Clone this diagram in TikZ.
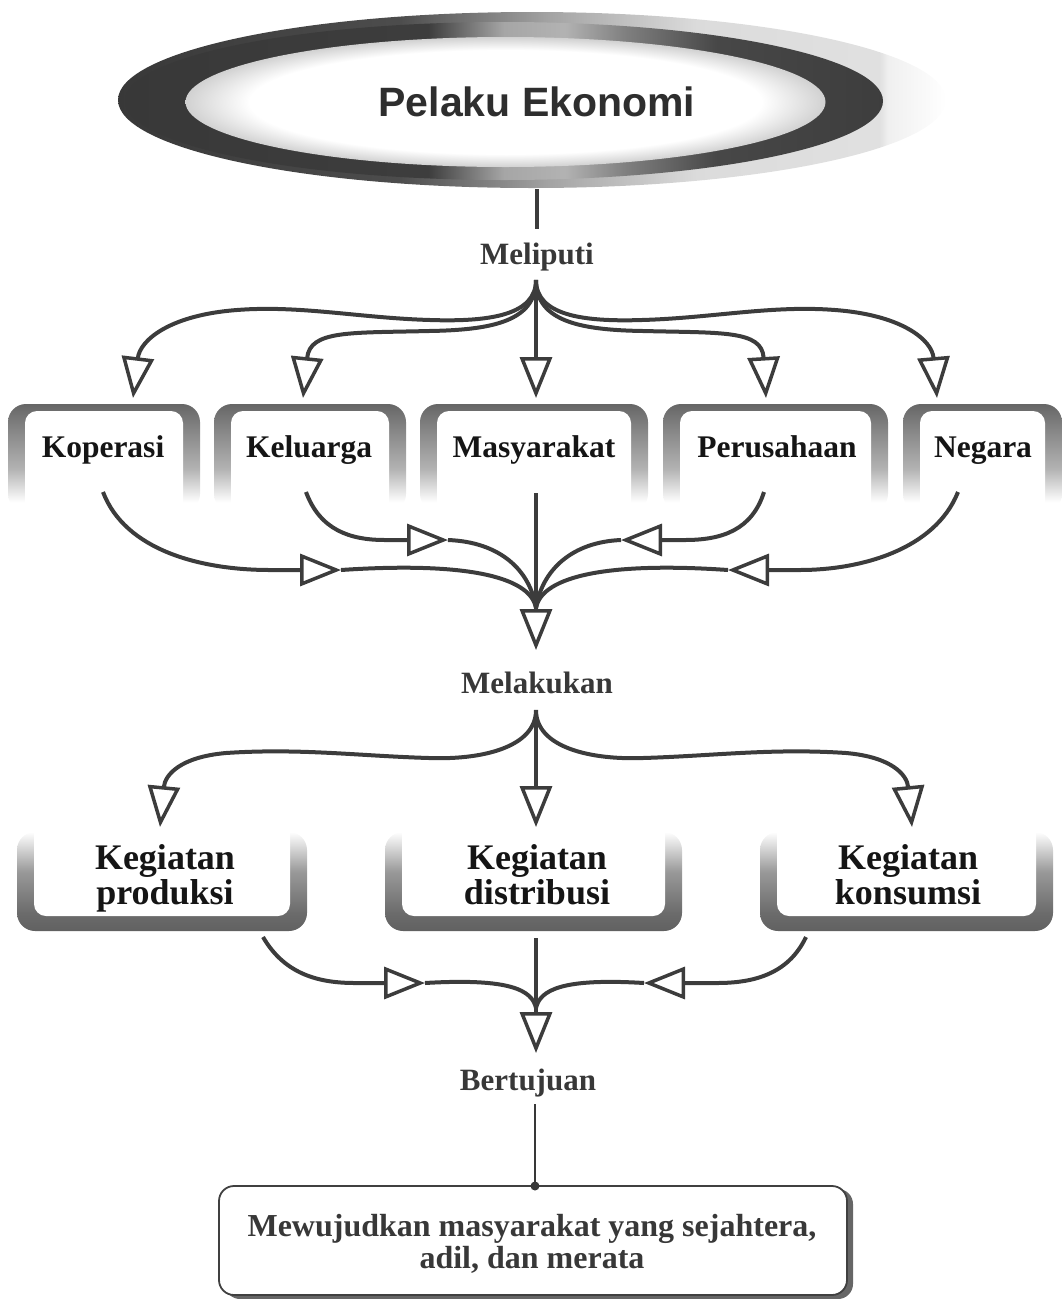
\documentclass[tikz,border=0pt]{standalone}
\usepackage{fontspec}
\setmainfont{Liberation Serif}
\newfontfamily\headfont{Liberation Sans}
\usetikzlibrary{arrows.meta}
\definecolor{ln}{HTML}{3C3C3C}
\definecolor{lbl}{HTML}{383838}
\definecolor{txt}{HTML}{151515}
% TikZ maps the path's bounding box onto 25bp..75bp of these shadings
\pgfdeclarehorizontalshading{outershade}{100bp}{color(0bp)=(black!78); color(25bp)=(black!78); color(42bp)=(black!70); color(51bp)=(black!36); color(60bp)=(black!14); color(71bp)=(black!12); color(71.5bp)=(black!6); color(75bp)=(white); color(100bp)=(white)}
\pgfdeclarehorizontalshading{darkshade}{100bp}{color(0bp)=(black!78); color(25bp)=(black!78); color(45bp)=(black!76); color(50bp)=(black!35); color(54bp)=(black!30); color(58bp)=(black!50); color(64bp)=(black!72); color(75bp)=(black!76); color(100bp)=(black!76)}
\pgfdeclareradialshading{innerglow}{\pgfpoint{0bp}{0bp}}{color(0bp)=(white); color(20bp)=(white); color(25bp)=(black!18); color(50bp)=(black!18)}
\pgfdeclareverticalshading{frameA}{100bp}{color(0bp)=(white); color(25bp)=(white); color(29.5bp)=(white); color(45bp)=(black!30); color(62.5bp)=(black!47); color(75bp)=(black!60); color(100bp)=(black!60)}
\pgfdeclareverticalshading{frameB}{100bp}{color(0bp)=(black!62); color(25bp)=(black!62); color(34bp)=(black!58); color(55bp)=(black!40); color(69bp)=(black!12); color(75bp)=(white); color(100bp)=(white)}
\tikzset{
  conn/.style={draw=ln, line width=4pt},
  tri/.style={conn, -{Triangle[open,length=41pt,width=32pt,line width=3.5pt]}},
  lab/.style={text=lbl, font=\fontsize{31}{34}\selectfont\bfseries, inner sep=0pt, anchor=base},
  boxtxt/.style={text=txt, font=\fontsize{31.5}{34}\selectfont\bfseries, inner sep=0pt, anchor=base},
  boxtxtB/.style={text=txt, font=\fontsize{36}{35}\selectfont\bfseries, align=center, inner sep=0pt, anchor=base},
}
\newcommand{\frameA}[2]{%
  \shade[shading=frameA, rounded corners=18pt] (#1,404) rectangle (#2,512);
  \fill[white, rounded corners=12pt] ({#1+17},411) rectangle ({#2-17},530);}
\newcommand{\frameB}[2]{%
  \shade[shading=frameB, rounded corners=18pt] (#1,832) rectangle (#2,931);
  \fill[white, rounded corners=12pt] ({#1+17},815) rectangle ({#2-17},916);}
\begin{document}
\begin{tikzpicture}[x=1pt, y=-1pt]
\useasboundingbox (0,0) rectangle (1062,1299);
% title ellipse
\shade[shading=outershade] (532,100) ellipse [x radius=414pt, y radius=88pt];
\shade[shading=darkshade] (504,101) ellipse [x radius=379pt, y radius=79pt];
\shade[shading=innerglow] (505.5,102) ellipse [x radius=320pt, y radius=65pt];
\node[text=black!82, font=\headfont\fontsize{41}{44}\selectfont\bfseries, inner sep=0pt] (title) at (537,102) {Pelaku Ekonomi};
\coordinate (ellbot) at (537,189);
% labels
\node[lab] (meliputi) at (537,264) {Meliputi};
\node[lab] (melakukan) at (537,693) {Melakukan};
\node[lab] (bertujuan) at (528,1090) {Bertujuan};
\draw[conn] (ellbot) -- (537,229);
% row 1 frames
\frameA{8}{200}
\frameA{214}{406}
\frameA{420}{648}
\frameA{663}{888}
\frameA{903}{1062}
\node[boxtxt] (kop) at (103,457) {Koperasi};
\node[boxtxt] (kel) at (309,457) {Keluarga};
\node[boxtxt] (mas) at (534,457) {Masyarakat};
\node[boxtxt] (per) at (777,457) {Perusahaan};
\node[boxtxt] (neg) at (983,457) {Negara};
% row 2 frames
\frameB{17}{307}
\frameB{385}{682}
\frameB{760}{1053}
\node[boxtxtB] (pro) at (165,904) {Kegiatan\\produksi};
\node[boxtxtB] (dis) at (537,904) {Kegiatan\\distribusi};
\node[boxtxtB] (kon) at (908,904) {Kegiatan\\konsumsi};
% goal box
\fill[black!60, rounded corners=15pt] (225,1189) rectangle (853,1299);
\draw[fill=white, draw=black!75, line width=1.8pt, rounded corners=15pt] (219,1186) rectangle (847,1295);
\node[text=lbl, font=\fontsize{32}{32}\selectfont\bfseries, align=center, inner sep=0pt, anchor=base] (goal) at (532,1268) {Mewujudkan masyarakat yang sejahtera,\\adil, dan merata};
% coordinates
\coordinate (fanA) at (536,280);
\coordinate (kopin) at (133,398);
\coordinate (kelin) at (303,398);
\coordinate (masin) at (536,398);
\coordinate (perin) at (766,398);
\coordinate (negin) at (937,398);
\coordinate (kopout) at (103,492);
\coordinate (kelout) at (306,492);
\coordinate (masout) at (536,493);
\coordinate (perout) at (764,492);
\coordinate (negout) at (958,492);
\coordinate (kopt) at (341,570);
\coordinate (kelt) at (448,540);
\coordinate (pert) at (621,540);
\coordinate (negt) at (728,570);
\coordinate (mergeA) at (536,608);
\coordinate (tipA) at (536,650);
\coordinate (fanB) at (536,710);
\coordinate (proin) at (160,827);
\coordinate (disin) at (536,827);
\coordinate (konin) at (912,827);
\coordinate (proout) at (263,937);
\coordinate (disout) at (536,938);
\coordinate (konout) at (806,937);
\coordinate (prot) at (425,983);
\coordinate (kont) at (644,983);
\coordinate (mergeB) at (536,1008);
\coordinate (tipB) at (536,1053);
\coordinate (goaltop) at (535,1186);
\coordinate (goalline) at (535,1104);
% fan 1
\draw[tri] (fanA) .. controls (536,315) and (490,322) .. (430,320) .. controls (360,318) and (300,305) .. (237,310) .. controls (170,315) and (140,340) .. (kopin);
\draw[tri] (fanA) .. controls (536,322) and (490,330) .. (429,331) .. controls (350,333) and (310,330) .. (kelin);
\draw[tri] (fanA) -- (masin);
\draw[tri] (fanA) .. controls (536,322) and (582,330) .. (643,331) .. controls (722,333) and (762,330) .. (perin);
\draw[tri] (fanA) .. controls (536,315) and (582,322) .. (642,320) .. controls (712,318) and (772,305) .. (835,310) .. controls (902,315) and (932,340) .. (negin);
% converge 1
\draw[tri] (kopout) .. controls (125,550) and (200,570) .. (270,570) -- (kopt);
\draw[conn] (kopt) .. controls (460,562) and (530,575) .. (mergeA);
\draw[tri] (kelout) .. controls (320,530) and (350,540) .. (385,540) -- (kelt);
\draw[conn] (kelt) .. controls (500,542) and (530,570) .. (mergeA);
\draw[conn] (masout) -- (mergeA);
\draw[tri] (perout) .. controls (752,530) and (722,540) .. (685,540) -- (pert);
\draw[conn] (pert) .. controls (572,542) and (542,570) .. (mergeA);
\draw[tri] (negout) .. controls (935,550) and (860,570) .. (800,570) -- (negt);
\draw[conn] (negt) .. controls (612,562) and (542,575) .. (mergeA);
\draw[tri] (mergeA) -- (tipA);
% fan 2
\draw[tri] (fanB) -- (disin);
\draw[tri] (fanB) .. controls (536,748) and (480,760) .. (429,758) .. controls (360,756) and (300,748) .. (226,753) .. controls (180,757) and (165,775) .. (proin);
\draw[tri] (fanB) .. controls (536,748) and (592,760) .. (643,758) .. controls (712,756) and (772,748) .. (846,753) .. controls (892,757) and (907,775) .. (konin);
% converge 2
\draw[tri] (proout) .. controls (285,975) and (320,983) .. (355,983) -- (prot);
\draw[conn] (prot) .. controls (510,978) and (532,990) .. (mergeB);
\draw[conn] (disout) -- (mergeB);
\draw[tri] (konout) .. controls (788,975) and (752,983) .. (717,983) -- (kont);
\draw[conn] (kont) .. controls (562,978) and (540,990) .. (mergeB);
\draw[tri] (mergeB) -- (tipB);
% to goal
\draw[draw=lbl, line width=2.2pt] (goalline) -- (goaltop);
\fill[lbl] (goaltop) circle (4.5pt);
\end{tikzpicture}
\end{document}
